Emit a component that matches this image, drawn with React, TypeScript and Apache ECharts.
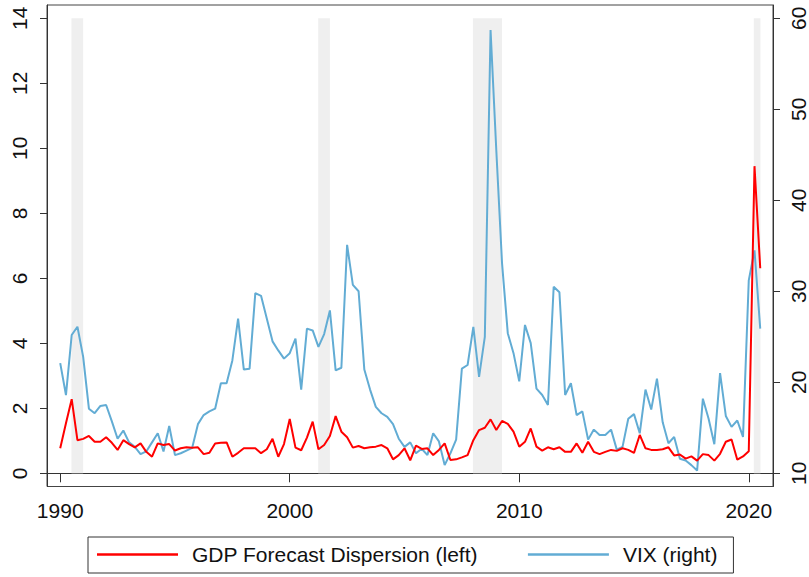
import React, { useEffect, useRef } from "react";
import * as echarts from "echarts";

// Quarterly data, 1990Q1 .. 2020Q3
const START_YEAR = 1990;
const gdpDispersion: number[] = [
  0.77, 1.54, 2.28, 1.02,
  1.06, 1.15, 0.97, 0.97,
  1.11, 0.94, 0.72, 1.02,
  0.90, 0.80, 0.92, 0.66,
  0.51, 0.92, 0.87, 0.90,
  0.70, 0.77, 0.80, 0.79,
  0.80, 0.59, 0.63, 0.92,
  0.94, 0.95, 0.51, 0.63,
  0.77, 0.77, 0.77, 0.62,
  0.74, 1.06, 0.51, 0.90,
  1.67, 0.79, 0.71, 1.10,
  1.59, 0.74, 0.87, 1.15,
  1.76, 1.28, 1.11, 0.79,
  0.84, 0.77, 0.80, 0.82,
  0.87, 0.77, 0.43, 0.56,
  0.77, 0.40, 0.85, 0.75,
  0.77, 0.56, 0.72, 0.92,
  0.41, 0.43, 0.49, 0.56,
  1.02, 1.33, 1.40, 1.66,
  1.33, 1.61, 1.52, 1.28,
  0.82, 0.97, 1.38, 0.82,
  0.70, 0.80, 0.74, 0.80,
  0.66, 0.66, 0.92, 0.63,
  0.97, 0.66, 0.59, 0.66,
  0.72, 0.69, 0.77, 0.72,
  0.63, 1.18, 0.77, 0.72,
  0.72, 0.74, 0.80, 0.55,
  0.58, 0.45, 0.52, 0.39,
  0.59, 0.56, 0.39, 0.60,
  0.97, 1.04, 0.42, 0.52,
  0.68, 9.45, 6.31,
];

const vix: number[] = [
  22.1, 18.6, 25.2, 26.1,
  22.8, 17.1, 16.6, 17.4,
  17.5, 15.7, 13.8, 14.7,
  13.4, 12.9, 12.1, 12.4,
  13.4, 14.4, 12.4, 15.2,
  12.0, 12.2, 12.5, 12.8,
  15.4, 16.4, 16.8, 17.1,
  19.9, 19.9, 22.4, 27.0,
  21.4, 21.5, 29.8, 29.5,
  27.0, 24.5, 23.5, 22.6,
  23.2, 24.8, 19.2, 25.9,
  25.7, 23.9, 25.3, 27.9,
  21.3, 21.6, 35.1, 30.7,
  30.0, 21.4, 19.2, 17.3,
  16.6, 16.2, 15.4, 13.8,
  12.9, 13.4, 12.2, 12.7,
  12.0, 14.4, 13.5, 10.9,
  12.2, 13.7, 21.5, 21.9,
  26.1, 20.6, 25.0, 58.7,
  45.5, 33.1, 25.4, 23.2,
  20.1, 26.3, 24.3, 19.3,
  18.6, 17.5, 30.5, 29.9,
  18.6, 19.9, 16.4, 16.8,
  13.7, 14.8, 14.2, 14.2,
  14.8, 12.6, 12.9, 16.0,
  16.5, 14.4, 19.2, 17.0,
  20.4, 15.6, 13.3, 14.0,
  11.6, 11.4, 10.9, 10.3,
  18.2, 16.0, 13.2, 21.0,
  16.3, 15.1, 15.8, 14.0,
  31.2, 34.5, 25.9,
];

// Recession shading [start, end] in fractional years
const recessions: [number, number][] = [
  [1990.49, 1991.0],
  [2001.24, 2001.75],
  [2007.98, 2009.25],
  [2020.22, 2020.51],
];

const xTicks = [1990, 2000, 2010, 2020];
const leftTicks = [0, 2, 4, 6, 8, 10, 12, 14];
const rightTicks = [10, 20, 30, 40, 50, 60];

const SERIES_GDP = "GDP Forecast Dispersion (left)";
const SERIES_VIX = "VIX (right)";

const FONT = "'Liberation Sans', Arial, Helvetica, sans-serif";

export default function App() {
  const ref = useRef<HTMLDivElement | null>(null);

  useEffect(() => {
    if (!ref.current) return;
    const chart = echarts.init(ref.current, undefined, { renderer: "svg" });
    const toXY = (arr: number[]) =>
      arr.map((v, i) => [START_YEAR + i * 0.25, v]);

    const axisColor = "#333";
    const labelStyle = { fontSize: 21, color: "#111", fontFamily: FONT };
    const plain = (v: number) => String(v);

    chart.setOption({
      animation: false,
      backgroundColor: "#ffffff",
      grid: {
        left: 47,
        right: 31.3,
        top: 5,
        bottom: 90.5,
        show: true,
        borderColor: "#444",
        borderWidth: 1,
        backgroundColor: "transparent",
      },
      xAxis: {
        type: "value",
        min: 1989.424,
        max: 2021.056,
        axisLine: { show: true, lineStyle: { color: axisColor } },
        axisTick: {
          show: true,
          length: 9,
          customValues: xTicks,
          lineStyle: { color: axisColor },
        },
        axisLabel: {
          ...labelStyle,
          customValues: xTicks,
          margin: 13,
          formatter: plain,
        },
        splitLine: { show: false },
      },
      yAxis: [
        {
          type: "value",
          position: "left",
          min: -0.406,
          max: 14.409,
          axisLine: { show: true, lineStyle: { color: axisColor } },
          axisTick: {
            show: true,
            length: 7,
            customValues: leftTicks,
            lineStyle: { color: axisColor },
          },
          axisLabel: {
            ...labelStyle,
            customValues: leftTicks,
            rotate: 90,
            margin: 17,
            formatter: plain,
          },
          splitLine: { show: false },
        },
        {
          type: "value",
          position: "right",
          min: 8.549,
          max: 61.46,
          axisLine: { show: true, lineStyle: { color: axisColor } },
          axisTick: {
            show: true,
            length: 7,
            customValues: rightTicks,
            lineStyle: { color: axisColor },
          },
          axisLabel: {
            ...labelStyle,
            customValues: rightTicks,
            rotate: 90,
            margin: 15,
            formatter: plain,
          },
          splitLine: { show: false },
        },
      ],
      legend: {
        show: true,
        data: [SERIES_GDP, SERIES_VIX],
        left: 88,
        top: 537,
        orient: "horizontal",
        icon: "rect",
        itemWidth: 81,
        itemHeight: 2.5,
        itemGap: 50,
        borderColor: "#333",
        borderWidth: 1,
        borderRadius: 0,
        padding: [7, 16, 8, 9],
        textStyle: { ...labelStyle, padding: [0, 0, 0, 9] },
      },
      series: [
        {
          name: "recessions",
          type: "line",
          xAxisIndex: 0,
          yAxisIndex: 0,
          data: [],
          z: 1,
          silent: true,
          markArea: {
            silent: true,
            itemStyle: { color: "#efefef" },
            data: recessions.map(([a, b]) => [
              { xAxis: a, yAxis: 0 },
              { xAxis: b, yAxis: 14 },
            ]),
          },
        },
        {
          name: SERIES_VIX,
          type: "line",
          xAxisIndex: 0,
          yAxisIndex: 1,
          data: toXY(vix),
          symbol: "none",
          z: 2,
          lineStyle: { color: "#62acd4", width: 2 },
          itemStyle: { color: "#62acd4" },
        },
        {
          name: SERIES_GDP,
          type: "line",
          xAxisIndex: 0,
          yAxisIndex: 0,
          data: toXY(gdpDispersion),
          symbol: "none",
          z: 3,
          lineStyle: { color: "#ff0000", width: 2 },
          itemStyle: { color: "#ff0000" },
        },
      ],
    });

    return () => {
      chart.dispose();
    };
  }, []);

  return (
    <div
      ref={ref}
      style={{
        position: "fixed",
        left: 0,
        top: 0,
        width: 809,
        height: 577,
        background: "#fff",
      }}
    />
  );
}
